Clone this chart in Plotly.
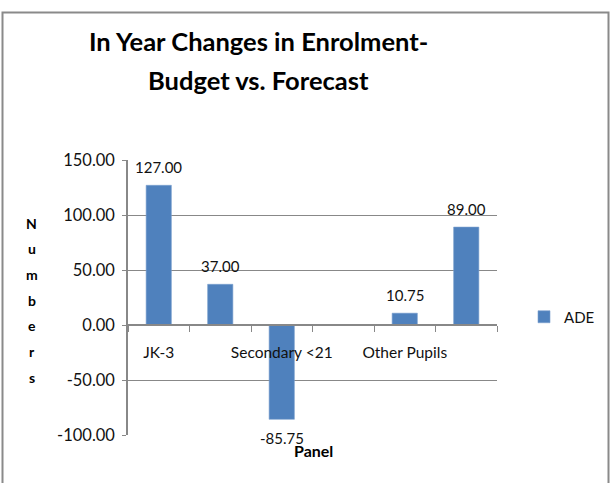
import plotly.graph_objects as go

categories = ["JK-3", "Grades 4-8", "Secondary <21", "Secondary >21", "Other Pupils", "Total"]
values = [127.00, 37.00, -85.75, None, 10.75, 89.00]
shown_labels = ["JK-3", "", "Secondary <21", "", "Other Pupils", ""]
y_ticks = [-100, -50, 0, 50, 100, 150]
y_tick_text = [f"{v:.2f}" for v in y_ticks]
series_name = "ADE"
title_lines = ["In Year Changes in Enrolment-", "Budget vs. Forecast"]
y_title = "Numbers"
x_title = "Panel"

FONT = "Lato, 'Open Sans', sans-serif"
GRAY = "#888888"
BLUE = "#4F81BD"

# plot area geometry (pixels)
L, R, T, B = 128, 497, 160, 435
W, H = 613, 483
pw, ph = R - L, B - T

def px(x):
    return (x - L) / pw

def py(y):
    return (B - y) / ph

fig = go.Figure()
fig.add_trace(go.Bar(
    x=categories, y=values, name=series_name,
    marker=dict(color=BLUE, line=dict(color="#7A9FCF", width=0.6)),
    showlegend=True,
))

annotations = []
for c, v in zip(categories, values):
    if v is None:
        continue
    annotations.append(dict(
        x=c, y=v, xref="x", yref="y", text=f"{v:.2f}", showarrow=False,
        yshift=18 if v >= 0 else -19, font=dict(family=FONT, size=15, color="#111111"),
    ))

for i, line in enumerate(title_lines):
    annotations.append(dict(
        x=px(258), y=py(41 + i * 39), xref="paper", yref="paper", text=f"<b>{line}</b>",
        showarrow=False, xanchor="center", yanchor="middle",
        font=dict(family=FONT, size=25.5, color="#000000"),
    ))

for i, ch in enumerate(y_title):
    annotations.append(dict(
        x=px(32), y=py(223 + i * 25.7), xref="paper", yref="paper", text=f"<b>{ch}</b>",
        showarrow=False, xanchor="center", yanchor="middle",
        font=dict(family=FONT, size=14, color="#000000"),
    ))

annotations.append(dict(
    x=px(313), y=py(450), xref="paper", yref="paper", text=f"<b>{x_title}</b>",
    showarrow=False, xanchor="center", yanchor="middle",
    font=dict(family=FONT, size=16, color="#000000"),
))

fig.update_layout(
    width=W, height=H,
    margin=dict(l=L, r=W - R, t=T, b=H - B, pad=0),
    paper_bgcolor="white", plot_bgcolor="white",
    font=dict(family=FONT, size=15, color="#111111"),
    bargap=0.59,
    annotations=annotations,
    shapes=[dict(type="rect", xref="paper", yref="paper",
                 x0=px(2.5), x1=px(608.5), y0=py(520), y1=py(12.5),
                 line=dict(color="#8A8A8A", width=2), fillcolor="rgba(0,0,0,0)", layer="below")],
    legend=dict(x=px(524), y=py(317), xanchor="left", yanchor="middle",
                font=dict(family=FONT, size=15, color="#111111"), bgcolor="rgba(0,0,0,0)"),
    xaxis=dict(
        type="category", anchor="free", position=py(325),
        tickmode="array", tickvals=categories, ticktext=shown_labels, tickangle=0,
        tickson="boundaries", ticks="outside", ticklen=6, tickcolor=GRAY, tickwidth=1,
        showline=True, linecolor=GRAY, linewidth=1.5, showgrid=False,
        ticklabelstandoff=14, tickfont=dict(family=FONT, size=15.5, color="#111111"),
    ),
    yaxis=dict(
        range=[-100, 150], tickmode="array", tickvals=y_ticks, ticktext=y_tick_text,
        ticks="outside", ticklen=4, tickcolor=GRAY,
        showline=True, linecolor=GRAY, linewidth=1.5,
        showgrid=True, gridcolor=GRAY, gridwidth=1, zeroline=False,
        ticklabelstandoff=4, tickfont=dict(family=FONT, size=16.5, color="#111111"),
    ),
)

fig.write_html("out.html")
